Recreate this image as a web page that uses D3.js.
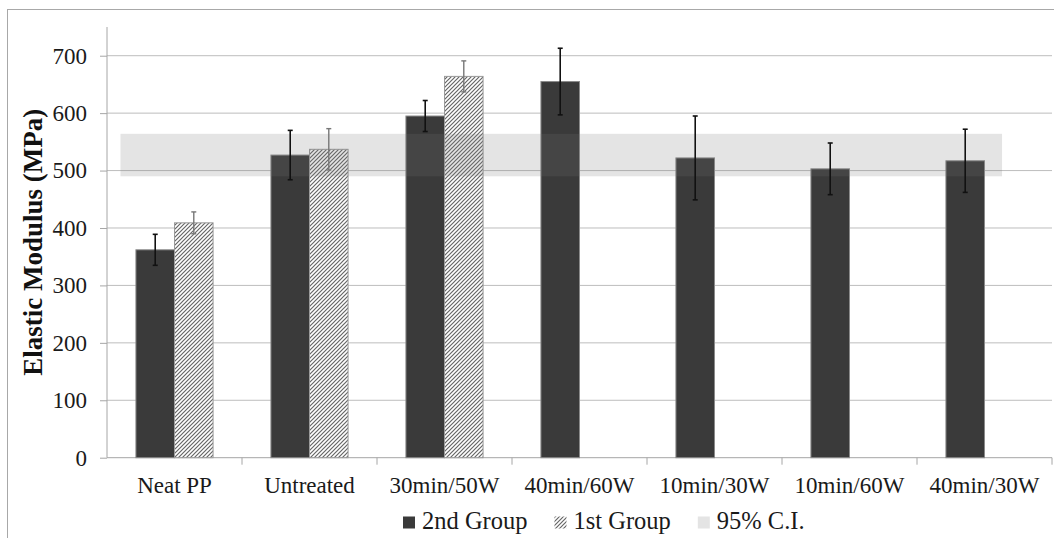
<!DOCTYPE html>
<html>
<head>
<meta charset="utf-8">
<script src="https://cdn.jsdelivr.net/npm/d3@7"></script>
<style>
  body { margin: 0; background: #fff; }
  svg { display: block; }
  svg text { font-family: "Liberation Serif", "Times New Roman", serif; }
</style>
</head>
<body>
<svg id="chart" width="1054" height="538"></svg>
<script>
// values
const categories = ['Neat PP', 'Untreated', '30min/50W', '40min/60W', '10min/30W', '10min/60W', '40min/30W'];
const group2 = [362, 527, 595, 655, 522, 503, 517];
const group2Err = [27, 43, 27, 58, 73, 45, 55];
const group1 = [409, 537, 664, null, null, null, null];
const group1Err = [19, 36, 27, null, null, null, null];
const ciRange = [490, 564];
const yTicks = [0, 100, 200, 300, 400, 500, 600, 700];
const seriesNames = ['2nd Group', '1st Group', '95% C.I.'];

const svg = d3.select('#chart');
const margin = { left: 107, right: 1052, top: 27, bottom: 457.7 };

// outer frame (cut off on right and bottom like the source)
svg.append('rect')
    .attr('x', 7.5).attr('y', 9.5)
    .attr('width', 1100).attr('height', 600)
    .attr('fill', 'none').attr('stroke', '#a8a8a8').attr('stroke-width', 1);

// hatch pattern
const defs = svg.append('defs');
const pat = defs.append('pattern')
    .attr('id', 'hatch')
    .attr('patternUnits', 'userSpaceOnUse')
    .attr('width', 4).attr('height', 4);
pat.append('rect').attr('width', 4).attr('height', 4).attr('fill', '#fff');
pat.append('path')
    .attr('d', 'M-1,1 L1,-1 M0,4 L4,0 M3,5 L5,3')
    .attr('stroke', '#666').attr('stroke-width', 1.2);

const x = d3.scaleBand().domain(categories).range([margin.left, margin.right]).padding(0);
const xInner = d3.scaleBand().domain(['g2', 'g1']).range([0, x.bandwidth()]).paddingInner(0).paddingOuter(0.75);
const y = d3.scaleLinear().domain([0, 750]).range([margin.bottom, margin.top]);

// gridlines
svg.append('g')
    .selectAll('line')
    .data(yTicks.filter(d => d > 0))
    .join('line')
    .attr('x1', margin.left).attr('x2', margin.right)
    .attr('y1', d => y(d)).attr('y2', d => y(d))
    .attr('stroke', '#bdbdbd').attr('stroke-width', 1);

// y axis
const yAxis = svg.append('g')
    .attr('transform', `translate(${margin.left},0)`)
    .call(d3.axisLeft(y).tickValues(yTicks).tickSize(7).tickPadding(13))
    .attr('font-family', null);
yAxis.selectAll('line').attr('stroke', '#a6a6a6');
yAxis.select('.domain').attr('stroke', '#a6a6a6').attr('d', `M0,${margin.top}V${margin.bottom}`);
yAxis.selectAll('text').attr('font-size', 23).attr('fill', '#1a1a1a');

// x axis: labels at band centers, ticks at band edges
const xAxis = svg.append('g')
    .attr('transform', `translate(0,${margin.bottom})`)
    .call(d3.axisBottom(x).tickSize(0).tickPadding(19))
    .attr('font-family', null);
xAxis.select('.domain').attr('stroke', '#a6a6a6').attr('d', `M${margin.left},0H${margin.right}`);
xAxis.selectAll('text').attr('font-size', 23).attr('fill', '#1a1a1a');
xAxis.append('g')
    .selectAll('line')
    .data(categories.slice(1).map(c => x(c)).concat([margin.right]))
    .join('line')
    .attr('x1', d => d).attr('x2', d => d)
    .attr('y1', 0).attr('y2', 7)
    .attr('stroke', '#a6a6a6');

// bars
const bars2 = categories.map((c, i) => ({ cat: c, v: group2[i], e: group2Err[i] }));
const bars1 = categories.map((c, i) => ({ cat: c, v: group1[i], e: group1Err[i] })).filter(d => d.v != null);

svg.append('g')
    .selectAll('rect')
    .data(bars2)
    .join('rect')
    .attr('x', d => x(d.cat) + xInner('g2'))
    .attr('y', d => y(d.v))
    .attr('width', xInner.bandwidth())
    .attr('height', d => y(0) - y(d.v))
    .attr('fill', '#3a3a3a')
    .attr('stroke', '#8a8a8a').attr('stroke-width', 1);

svg.append('g')
    .selectAll('rect')
    .data(bars1)
    .join('rect')
    .attr('x', d => x(d.cat) + xInner('g1'))
    .attr('y', d => y(d.v))
    .attr('width', xInner.bandwidth())
    .attr('height', d => y(0) - y(d.v))
    .attr('fill', 'url(#hatch)')
    .attr('stroke', '#9a9a9a').attr('stroke-width', 1);

// 95% C.I. band over the bars
const ciX0 = x(categories[0]) + x.bandwidth() * 0.1;
const ciX1 = x(categories[categories.length - 1]) + x.bandwidth() * 0.63;
svg.append('rect')
    .attr('x', ciX0).attr('y', y(ciRange[1]))
    .attr('width', ciX1 - ciX0)
    .attr('height', y(ciRange[0]) - y(ciRange[1]))
    .attr('fill', 'rgb(116,116,116)').attr('fill-opacity', 0.195);

// error bars
function errorBars(data, key, color, width) {
    const g = svg.append('g').attr('stroke', color).attr('stroke-width', width);
    data.forEach(d => {
        const cx = x(d.cat) + xInner(key) + xInner.bandwidth() / 2;
        g.append('line').attr('x1', cx).attr('x2', cx).attr('y1', y(d.v + d.e)).attr('y2', y(d.v - d.e));
        g.append('line').attr('x1', cx - 2.5).attr('x2', cx + 2.5).attr('y1', y(d.v + d.e)).attr('y2', y(d.v + d.e));
        g.append('line').attr('x1', cx - 2.5).attr('x2', cx + 2.5).attr('y1', y(d.v - d.e)).attr('y2', y(d.v - d.e));
    });
}
errorBars(bars2, 'g2', '#111', 1.6);
errorBars(bars1, 'g1', '#777', 1.4);

// y axis title
svg.append('text')
    .text('Elastic Modulus (MPa)')
    .attr('transform', `translate(42,${(margin.top + margin.bottom) / 2})rotate(-90)`)
    .attr('text-anchor', 'middle')
    .attr('font-size', 27)
    .attr('font-weight', 'bold')
    .attr('fill', '#111');

// legend
const legendFills = ['#3a3a3a', 'url(#hatch)', 'rgb(116,116,116)'];
const legendOpacity = [1, 1, 0.195];
const legend = svg.append('g');
let lx = 403;
seriesNames.forEach((name, i) => {
    legend.append('rect')
        .attr('x', lx).attr('y', 516.5)
        .attr('width', 12).attr('height', 12)
        .attr('fill', legendFills[i]).attr('fill-opacity', legendOpacity[i]);
    const t = legend.append('text')
        .text(name)
        .attr('x', lx + 19).attr('y', 529)
        .attr('font-size', 24.5)
        .attr('fill', '#1a1a1a');
    lx = lx + 19 + t.node().getComputedTextLength() + 27;
});
</script>
</body>
</html>
